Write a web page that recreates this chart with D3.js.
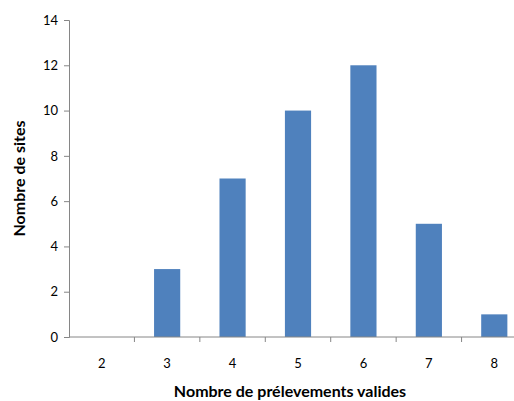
<!DOCTYPE html>
<html><head><meta charset="utf-8">
<script src="https://cdn.jsdelivr.net/npm/d3@7"></script>
<style>body{margin:0;background:#fff}svg{display:block}text{font-family:Lato,"Open Sans",sans-serif}</style>
</head><body><svg id="c" width="514" height="401"></svg>
<script>
const categories = ["2","3","4","5","6","7","8"];
const values = [0,3,7,10,12,5,1];
const yTicks = [0,2,4,6,8,10,12,14];
const xTitle = "Nombre de prélevements valides";
const yTitle = "Nombre de sites";

const svg = d3.select("#c");
const mLeft = 69, mRight = 527, mTop = 20, mBottom = 337;
const x = d3.scaleBand().domain(categories).range([mLeft, mRight]).paddingInner(0.6).paddingOuter(0.3);
const y = d3.scaleLinear().domain([0,14]).range([mBottom, mTop]);

svg.selectAll("rect.bar").data(values).join("rect")
  .attr("class","bar")
  .attr("x",(d,i)=>x(categories[i]))
  .attr("width",x.bandwidth())
  .attr("y",d=>y(d))
  .attr("height",d=>mBottom-y(d))
  .attr("fill","#4F81BD");

const axisColor = "#868686";
const ya = svg.append("g").attr("transform",`translate(${mLeft},0)`)
  .call(d3.axisLeft(y).tickValues(yTicks).tickSizeOuter(0).tickSize(5).tickPadding(6));
ya.select(".domain").attr("stroke",axisColor);
ya.selectAll(".tick line").attr("stroke",axisColor);
ya.selectAll(".tick text").attr("font-size",13).attr("fill","#000").attr("font-family","Lato");

// x axis: ticks at band boundaries
const step = x.step();
const xa = svg.append("g").attr("transform",`translate(0,${mBottom})`);
xa.append("line").attr("x1",mLeft).attr("x2",514).attr("stroke",axisColor);
const bounds = categories.map((c,i)=>mLeft + i*step).slice(1);
xa.selectAll("line.t").data(bounds).join("line").attr("class","t")
  .attr("x1",d=>d).attr("x2",d=>d).attr("y1",0).attr("y2",5).attr("stroke",axisColor);
xa.selectAll("text").data(categories).join("text")
  .attr("x",c=>x(c)+x.bandwidth()/2).attr("y",31)
  .attr("text-anchor","middle").attr("font-size",13).attr("fill","#000").text(c=>c);

svg.append("text").attr("x",290).attr("y",397).attr("text-anchor","middle")
  .attr("font-size",16).attr("font-weight","bold").text(xTitle);
svg.append("text").attr("transform",`translate(25,${(mTop+mBottom)/2}) rotate(-90)`)
  .attr("text-anchor","middle").attr("font-size",16).attr("font-weight","bold").text(yTitle);
</script></body></html>
